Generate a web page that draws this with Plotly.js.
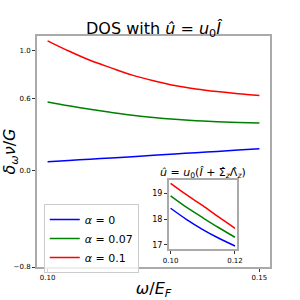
<!DOCTYPE html>
<html>
<head>
<meta charset="utf-8">
<script src="https://cdn.plot.ly/plotly-3.0.1.min.js"></script>
<style>html,body{margin:0;padding:0;background:#fff;}#chart{width:300px;height:300px;}</style>
</head>
<body>
<div id="chart"></div>
<script>
// Main panel data
const omega = [0.100, 0.105, 0.110, 0.115, 0.120, 0.125, 0.130, 0.135, 0.140, 0.145, 0.150];
const dosAlpha0 = [0.075, 0.085, 0.096, 0.106, 0.117, 0.128, 0.139, 0.150, 0.161, 0.172, 0.183];
const dosAlpha007 = [0.572, 0.540, 0.511, 0.485, 0.462, 0.443, 0.428, 0.416, 0.407, 0.401, 0.397];
const dosAlpha01 = [1.080, 0.995, 0.918, 0.855, 0.795, 0.748, 0.708, 0.680, 0.658, 0.640, 0.625];
const seriesNames = ["<i>α</i> = 0", "<i>α</i> = 0.07", "<i>α</i> = 0.1"];

// Inset data
const omegaInset = [0.100, 0.105, 0.110, 0.115, 0.120];
const insetAlpha0 = [18.43, 17.99, 17.60, 17.26, 16.96];
const insetAlpha007 = [18.91, 18.46, 18.06, 17.67, 17.30];
const insetAlpha01 = [19.40, 18.95, 18.53, 18.08, 17.65];

// Tick labels
const mainXTicks = [0.10, 0.15];
const mainXTickText = ["0.10", "0.15"];
const mainYTicks = [-0.8, 0.0, 0.6, 1.0];
const mainYTickText = ["\u22120.8", "0.0", "0.6", "1.0"];
const insetXTicks = [0.10, 0.12];
const insetXTickText = ["0.10", "0.12"];
const insetYTicks = [17, 18, 19];
const insetYTickText = ["17", "18", "19"];

const colors = ["#0000ff", "#008000", "#ff0000"];
const mainSeries = [dosAlpha0, dosAlpha007, dosAlpha01];
const insetSeries = [insetAlpha0, insetAlpha007, insetAlpha01];

const traces = [];
mainSeries.forEach((ys, i) => {
  traces.push({x: omega, y: ys, type: "scatter", mode: "lines", name: seriesNames[i],
    line: {color: colors[i], width: 1.5, shape: "spline"}, xaxis: "x", yaxis: "y"});
});
insetSeries.forEach((ys, i) => {
  traces.push({x: omegaInset, y: ys, type: "scatter", mode: "lines", showlegend: false,
    line: {color: colors[i], width: 1.5, shape: "spline"}, xaxis: "x2", yaxis: "y2"});
});

const FONT = "DejaVu Sans, sans-serif";
const axisCommon = {showline: true, mirror: true, linecolor: "#aaaaaa", linewidth: 2,
  ticks: "outside", tickcolor: "#333", ticklen: 3, tickwidth: 1, showgrid: false, zeroline: false};

const layout = {
  width: 300, height: 300,
  margin: {l: 37, r: 30, t: 36, b: 33},
  paper_bgcolor: "#fff", plot_bgcolor: "#fff",
  font: {family: FONT, color: "#000"},
  title: {text: "DOS with <i>û</i> = <i>u</i><sub>0</sub><i>Î</i>", font: {size: 16, family: FONT},
    xref: "paper", x: 0.5, xanchor: "center", yref: "container", y: 1 - 28/300, yanchor: "middle"},
  xaxis: Object.assign({}, axisCommon, {domain: [0, 1], range: [0.0975, 0.1525],
    tickvals: mainXTicks, ticktext: mainXTickText, tickfont: {size: 7, family: FONT},
    title: {text: "<i>ω</i>/<i>E</i><sub><i>F</i></sub>", font: {size: 16, family: FONT}, standoff: 7}}),
  yaxis: Object.assign({}, axisCommon, {domain: [0, 1], range: [-0.8, 1.12],
    tickvals: mainYTicks, ticktext: mainYTickText, tickfont: {size: 7, family: FONT},
    title: {text: "<i>δ</i><sub><i>ω</i></sub><i>ν</i>/<i>G</i>", font: {size: 16, family: FONT}, standoff: 5}}),
  xaxis2: Object.assign({}, axisCommon, {domain: [0.5665, 0.858], anchor: "y2", range: [0.0995, 0.1206],
    tickvals: insetXTicks, ticktext: insetXTickText, tickfont: {size: 7, family: FONT}}),
  yaxis2: Object.assign({}, axisCommon, {domain: [0.0766, 0.3766], anchor: "x2", range: [16.83, 19.53],
    tickvals: insetYTicks, ticktext: insetYTickText, tickfont: {size: 8, family: FONT}}),
  legend: {x: 0.029, y: 0.273, xanchor: "left", yanchor: "top", bgcolor: "rgba(255,255,255,0.8)",
    bordercolor: "#cccccc", borderwidth: 1, font: {size: 11, family: FONT}, itemwidth: 30, tracegroupgap: 0},
  annotations: [{text: "<i>û</i> = <i>u</i><sub>0</sub>(<i>Î</i> + Σ̂<sub><i>z</i></sub>Λ̂<sub><i>z</i></sub>)",
    xref: "paper", yref: "paper", x: (203 - 37) / 233, y: (267 - 173) / 231, xanchor: "center", yanchor: "middle",
    showarrow: false, font: {size: 11, family: FONT}}]
};

Plotly.newPlot("chart", traces, layout, {staticPlot: true, displayModeBar: false});
</script>
</body>
</html>
